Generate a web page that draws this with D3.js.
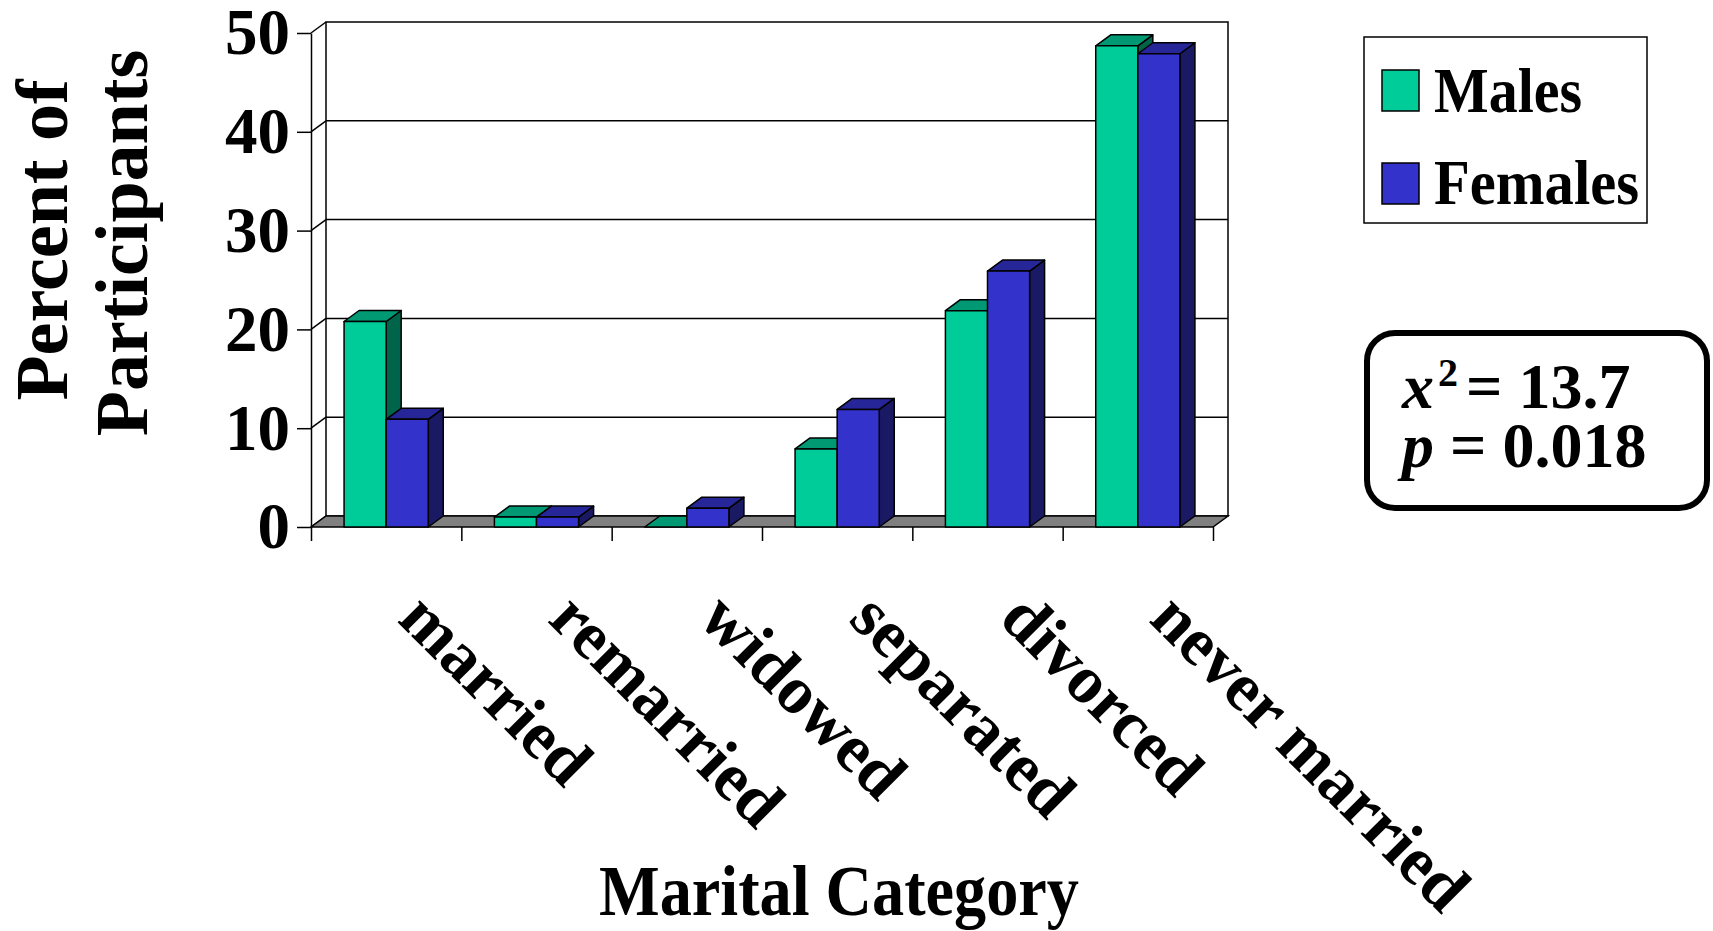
<!DOCTYPE html>
<html lang="en">
<head>
<meta charset="utf-8">
<title>Marital Category by Sex</title>
<script src="https://d3js.org/d3.v7.min.js"></script>
<style>
  body { margin: 0; background: #fff; }
  text { font-family: "Liberation Serif", "Times New Roman", serif; font-weight: bold; fill: #000; }
</style>
</head>
<body>
<script>

// Data (percent of participants)
var categories = ["married", "remarried", "widowed", "separated", "divorced", "never married"];
var males = [20.8, 1.0, 0, 7.9, 21.9, 48.7];
var females = [10.9, 1.0, 1.9, 11.9, 25.9, 47.9];
var yTicks = [0, 10, 20, 30, 40, 50];
var seriesNames = ["Males", "Females"];
var seriesColors = ["#00CC99", "#3333CC"];

var w = 1713, h = 931;
var dx = 15, dy = -11;   // 3D depth offset

var svg = d3.select("body").append("svg")
    .attr("width", w)
    .attr("height", h);

var x = d3.scaleBand().domain(categories).range([311, 1213]);
var y = d3.scaleLinear().domain([0, 50]).range([527, 33]);
var barW = x.bandwidth() * 0.28;
var x0 = x.range()[0], x1 = x.range()[1];

// Back wall with gridlines
svg.append("rect")
    .attr("x", x0 + dx).attr("y", y(50) + dy)
    .attr("width", x1 - x0).attr("height", y(0) - y(50))
    .attr("fill", "#fff").attr("stroke", "#000").attr("stroke-width", 1.5);

svg.selectAll("line.grid")
    .data(yTicks.slice(1, -1))
    .enter().append("line")
    .attr("class", "grid")
    .attr("x1", x0 + dx).attr("x2", x1 + dx)
    .attr("y1", function(d) { return y(d) + dy; })
    .attr("y2", function(d) { return y(d) + dy; })
    .attr("stroke", "#000").attr("stroke-width", 1.5);

// Side wall edges
svg.selectAll("line.side")
    .data(yTicks)
    .enter().append("line")
    .attr("class", "side")
    .attr("x1", x0).attr("x2", x0 + dx)
    .attr("y1", function(d) { return y(d); })
    .attr("y2", function(d) { return y(d) + dy; })
    .attr("stroke", "#000").attr("stroke-width", 1.5);

// Floor
svg.append("polygon")
    .attr("points", [[x0, y(0)], [x1, y(0)], [x1 + dx, y(0) + dy], [x0 + dx, y(0) + dy]].join(" "))
    .attr("fill", "#808080").attr("stroke", "#000").attr("stroke-width", 1.5);

// Bars (side, top, then front face)
var series = [males, females];
categories.forEach(function(c, i) {
    series.forEach(function(vals, s) {
        var v = vals[i];
        var bx = x(c) + x.bandwidth() / 2 - barW + s * barW;
        var top = y(v), bot = y(0);
        var col = d3.color(seriesColors[s]);
        var g = svg.append("g")
            .attr("stroke", "#000").attr("stroke-width", 1.5).attr("stroke-linejoin", "round");
        g.append("polygon")
            .attr("points", [[bx + barW, top], [bx + barW + dx, top + dy], [bx + barW + dx, bot + dy], [bx + barW, bot]].join(" "))
            .attr("fill", col.darker(2));
        g.append("polygon")
            .attr("points", [[bx, top], [bx + barW, top], [bx + barW + dx, top + dy], [bx + dx, top + dy]].join(" "))
            .attr("fill", col.darker(0.8));
        g.append("rect")
            .attr("x", bx).attr("y", top)
            .attr("width", barW).attr("height", bot - top)
            .attr("fill", col);
    });
});

// Y axis
var yAxis = svg.append("g")
    .attr("transform", "translate(" + x0 + ",0)")
    .call(d3.axisLeft(y).tickValues(yTicks).tickSize(14).tickSizeOuter(0).tickPadding(7));
yAxis.selectAll("path, line").attr("stroke", "#000").attr("stroke-width", 1.5);
yAxis.selectAll("text").attr("font-size", 65);

// X axis ticks at category boundaries
var xb = d3.scaleLinear().domain([0, categories.length]).range([x0, x1]);
var xAxis = svg.append("g")
    .attr("transform", "translate(0," + y(0) + ")")
    .call(d3.axisBottom(xb).ticks(categories.length).tickFormat("").tickSize(14).tickSizeOuter(0));
xAxis.select(".domain").remove();
xAxis.selectAll("line").attr("stroke", "#000").attr("stroke-width", 1.5);

// Category labels
svg.selectAll("text.cat")
    .data(categories)
    .enter().append("text")
    .attr("class", "cat")
    .attr("transform", function(d) {
        return "translate(" + (x(d) + x.bandwidth() / 2 + 10) + ",621) rotate(45)";
    })
    .attr("font-size", 68)
    .text(function(d) { return d; });

// Axis titles
svg.append("text")
    .attr("x", 839).attr("y", 915)
    .attr("text-anchor", "middle")
    .attr("font-size", 72)
    .attr("textLength", 480).attr("lengthAdjust", "spacingAndGlyphs")
    .text("Marital Category");

svg.append("text")
    .attr("transform", "translate(67,240) rotate(-90)")
    .attr("text-anchor", "middle")
    .attr("font-size", 74)
    .text("Percent of");
svg.append("text")
    .attr("transform", "translate(147,243) rotate(-90)")
    .attr("text-anchor", "middle")
    .attr("font-size", 74)
    .text("Participants");

// Legend
var legend = svg.append("g");
legend.append("rect")
    .attr("x", 1364).attr("y", 37).attr("width", 283).attr("height", 186)
    .attr("fill", "#fff").attr("stroke", "#000").attr("stroke-width", 1.5);
var legendLen = [148, 205];
seriesNames.forEach(function(name, i) {
    legend.append("rect")
        .attr("x", 1382).attr("y", 70 + i * 93).attr("width", 37).attr("height", 41)
        .attr("fill", seriesColors[i]).attr("stroke", "#000").attr("stroke-width", 1.5);
    legend.append("text")
        .attr("x", 1434).attr("y", 112 + i * 92)
        .attr("font-size", 63)
        .attr("textLength", legendLen[i]).attr("lengthAdjust", "spacingAndGlyphs")
        .text(name);
});

// Statistics box
svg.append("rect")
    .attr("x", 1367).attr("y", 333).attr("width", 340).attr("height", 175)
    .attr("rx", 28).attr("ry", 28)
    .attr("fill", "#fff").attr("stroke", "#000").attr("stroke-width", 6);

svg.append("text").attr("x", 1402).attr("y", 408).attr("font-size", 64)
    .attr("font-style", "italic").text("x");
svg.append("text").attr("x", 1438).attr("y", 386).attr("font-size", 40).text("2");
svg.append("text").attr("x", 1466).attr("y", 408).attr("font-size", 64).text("= 13.7");

svg.append("text").attr("x", 1402).attr("y", 467).attr("font-size", 64)
    .attr("font-style", "italic").text("p");
svg.append("text").attr("x", 1450).attr("y", 467).attr("font-size", 64).text("= 0.018");

</script>
</body>
</html>
